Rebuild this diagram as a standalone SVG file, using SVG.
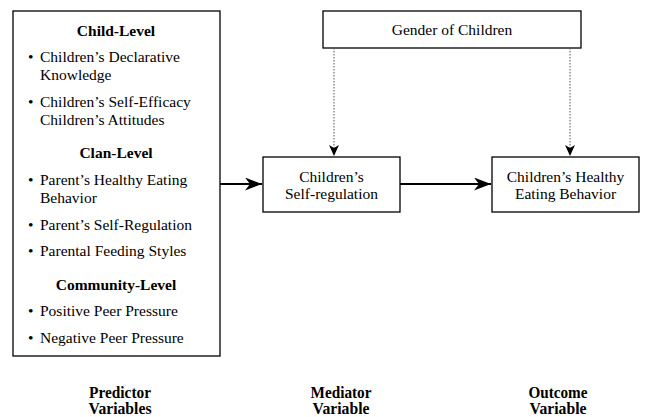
<svg xmlns="http://www.w3.org/2000/svg" width="651" height="417" viewBox="0 0 651 417">
<defs>
<marker id="solid" markerWidth="18" markerHeight="13" refX="17" refY="6.5" orient="auto" markerUnits="userSpaceOnUse">
<path d="M0,0 L17,6.5 L0,13 L5,6.5 Z" fill="#000"/>
</marker>
<marker id="dot" markerWidth="12" markerHeight="10" refX="11" refY="5" orient="auto" markerUnits="userSpaceOnUse">
<path d="M0,0 L11,5 L0,10 L3,5 Z" fill="#000"/>
</marker>
</defs>
<style>
text { font-family: "Liberation Serif", "Times New Roman", serif; font-size: 15.5px; fill: #000; }
.b { font-weight: bold; }
.c { text-anchor: middle; }
.lbl { font-size: 16px; font-weight: bold; text-anchor: middle; }
.box { fill: #fff; stroke: #000; stroke-width: 1.3; }
.solid { stroke: #000; stroke-width: 2.2; fill: none; marker-end: url(#solid); }
.dotted { stroke: #555; stroke-width: 1; stroke-dasharray: 1.5 1.5; fill: none; marker-end: url(#dot); }
</style>
<rect width="651" height="417" style="fill:#fff;stroke:none"/>
<g id="predictors">
<rect class="box" x="13" y="11" width="207" height="345"/>
<text class="b c" x="116" y="36">Child-Level</text>
<text x="28" y="62">•</text><text x="40" y="62">Children’s Declarative</text>
<text x="40" y="80">Knowledge</text>
<text x="28" y="107">•</text><text x="40" y="107">Children’s Self-Efficacy</text>
<text x="40" y="125">Children’s Attitudes</text>
<text class="b c" x="116" y="158">Clan-Level</text>
<text x="28" y="185">•</text><text x="40" y="185">Parent’s Healthy Eating</text>
<text x="40" y="203">Behavior</text>
<text x="28" y="230">•</text><text x="40" y="230">Parent’s Self-Regulation</text>
<text x="28" y="256">•</text><text x="40" y="256">Parental Feeding Styles</text>
<text class="b c" x="116" y="290">Community-Level</text>
<text x="28" y="316">•</text><text x="40" y="316">Positive Peer Pressure</text>
<text x="28" y="343">•</text><text x="40" y="343">Negative Peer Pressure</text>
</g>
<g id="gender">
<rect class="box" x="323" y="11" width="258" height="37"/>
<text class="c" x="452" y="35">Gender of Children</text>
</g>
<g id="mediator">
<rect class="box" x="263" y="157" width="137" height="55"/>
<text class="c" x="331.5" y="182">Children’s</text>
<text class="c" x="331.5" y="199">Self-regulation</text>
</g>
<g id="outcome">
<rect class="box" x="492" y="157" width="147" height="55"/>
<text class="c" x="565.5" y="182">Children’s Healthy</text>
<text class="c" x="565.5" y="199">Eating Behavior</text>
</g>
<g id="connectors">
<line class="solid" x1="220" y1="184" x2="262" y2="184"/>
<line class="solid" x1="400" y1="184" x2="491" y2="184"/>
<line class="dotted" x1="334" y1="48" x2="334" y2="156"/>
<line class="dotted" x1="570" y1="48" x2="570" y2="156"/>
</g>
<g id="labels">
<text class="lbl" x="120" y="397.5" textLength="62" lengthAdjust="spacingAndGlyphs">Predictor</text>
<text class="lbl" x="120" y="413.5" textLength="63" lengthAdjust="spacingAndGlyphs">Variables</text>
<text class="lbl" x="341" y="397.5" textLength="61" lengthAdjust="spacingAndGlyphs">Mediator</text>
<text class="lbl" x="341" y="413.5" textLength="57" lengthAdjust="spacingAndGlyphs">Variable</text>
<text class="lbl" x="558" y="397.5" textLength="59" lengthAdjust="spacingAndGlyphs">Outcome</text>
<text class="lbl" x="558" y="413.5" textLength="57" lengthAdjust="spacingAndGlyphs">Variable</text>
</g>
</svg>
